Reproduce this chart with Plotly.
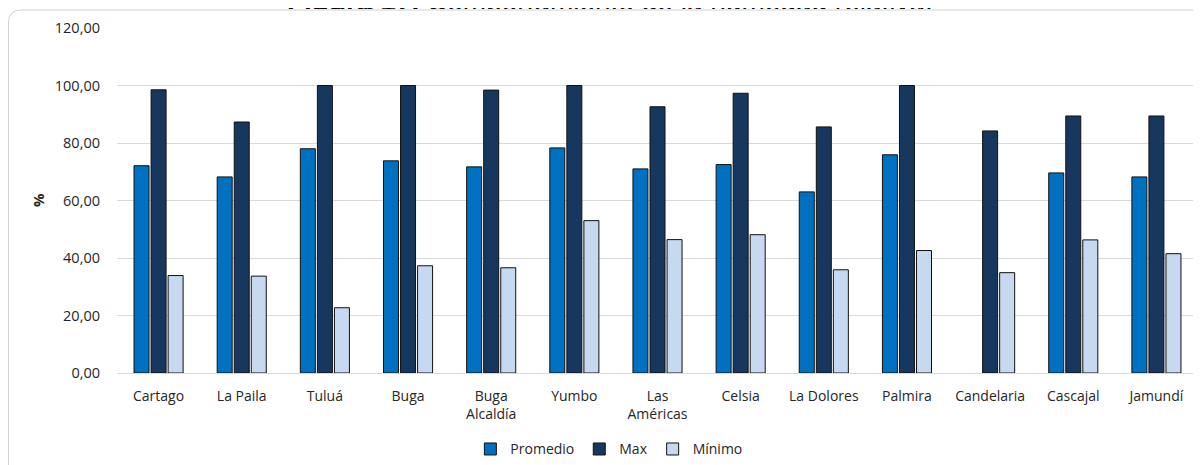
import plotly.graph_objects as go

estaciones = ['Cartago', 'La Paila', 'Tuluá', 'Buga', 'Buga<br>Alcaldía', 'Yumbo', 'Las<br>Américas',
              'Celsia', 'La Dolores', 'Palmira', 'Candelaria', 'Cascajal', 'Jamundí']
promedio = [72.1, 68.2, 78.0, 73.8, 71.7, 78.3, 71.0, 72.5, 63.0, 75.9, None, 69.6, 68.2]
maximo = [98.5, 87.3, 100.0, 100.0, 98.4, 100.0, 92.6, 97.3, 85.6, 100.0, 84.2, 89.4, 89.4]
minimo = [33.9, 33.7, 22.7, 37.3, 36.6, 53.0, 46.4, 48.1, 35.9, 42.6, 34.9, 46.3, 41.5]

series = [
    ('Promedio', promedio, '#0070C0'),
    ('Max', maximo, '#17375E'),
    ('Mínimo', minimo, '#C6D9F0'),
]

fig = go.Figure()
for name, vals, color in series:
    fig.add_trace(go.Bar(
        x=estaciones, y=vals, name=name,
        marker=dict(color=color, line=dict(color='#111111', width=1)),
    ))

font_cat = 'Open Sans, sans-serif'

# page body has an 8px margin, so the figure is sized to the visible area
fig.update_layout(
    width=1193, height=457,
    margin=dict(l=109, r=3, t=20, b=92, autoexpand=False),
    paper_bgcolor='white', plot_bgcolor='white',
    barmode='group', bargap=0.385, bargroupgap=0.12,
    separators=', ',
    font=dict(family=font_cat, size=14, color='#262626'),
    showlegend=True,
    legend=dict(orientation='h', x=0.455, xanchor='center', y=-0.175, yanchor='top',
                font=dict(size=14, color='#262626'), itemwidth=30, traceorder='normal',
                tracegroupgap=0),
    xaxis=dict(showgrid=False, showline=False, ticks='', tickfont=dict(size=14),
               automargin=False, ticklabelstandoff=13),
    yaxis=dict(range=[0, 120], dtick=20, tickformat='.2f', showgrid=True, gridcolor='#d9d9d9',
               gridwidth=1, zeroline=True, zerolinecolor='#d9d9d9', zerolinewidth=1,
               showline=False, ticks='', ticklabelstandoff=16, automargin=False,
               tickfont=dict(size=14.5)),
)

fig.add_annotation(
    text='<b>%</b>', xref='paper', yref='paper', x=-0.0735, y=0.5, xanchor='center',
    textangle=-90, showarrow=False, font=dict(family=font_cat, size=15, color='#262626'),
)

# title sits behind the card, only its upper part shows
fig.add_shape(
    type='rect', xref='paper', yref='paper', x0=0.3, x1=0.612, y0=1.058, y1=1.1159,
    line=dict(width=0), fillcolor='rgba(0,0,0,0)', layer='below',
    label=dict(text='<b>Figura 17.</b> Comportamiento de la humedad relativa.',
               textposition='middle center', padding=0,
               font=dict(family='Liberation Sans, Arial, sans-serif', size=28, color='black')),
)
fig.add_shape(
    type='rect', xref='paper', yref='paper', x0=-0.2, x1=1.1, y0=1.0319, y1=1.0551,
    line=dict(width=0), fillcolor='white', layer='below',
)

# card border
x0, x1 = -0.1004, 1.05
y0, y1 = -0.4, 1.0522
rx, ry = 0.012, 0.0377
fig.add_shape(
    type='path', xref='paper', yref='paper',
    path=f'M {x0} {y0} L {x0} {y1 - ry} Q {x0} {y1} {x0 + rx} {y1} L {x1} {y1} L {x1} {y0} Z',
    line=dict(color='#d0d0d0', width=1), fillcolor='rgba(0,0,0,0)', layer='below',
)

fig.write_html('out.html')
